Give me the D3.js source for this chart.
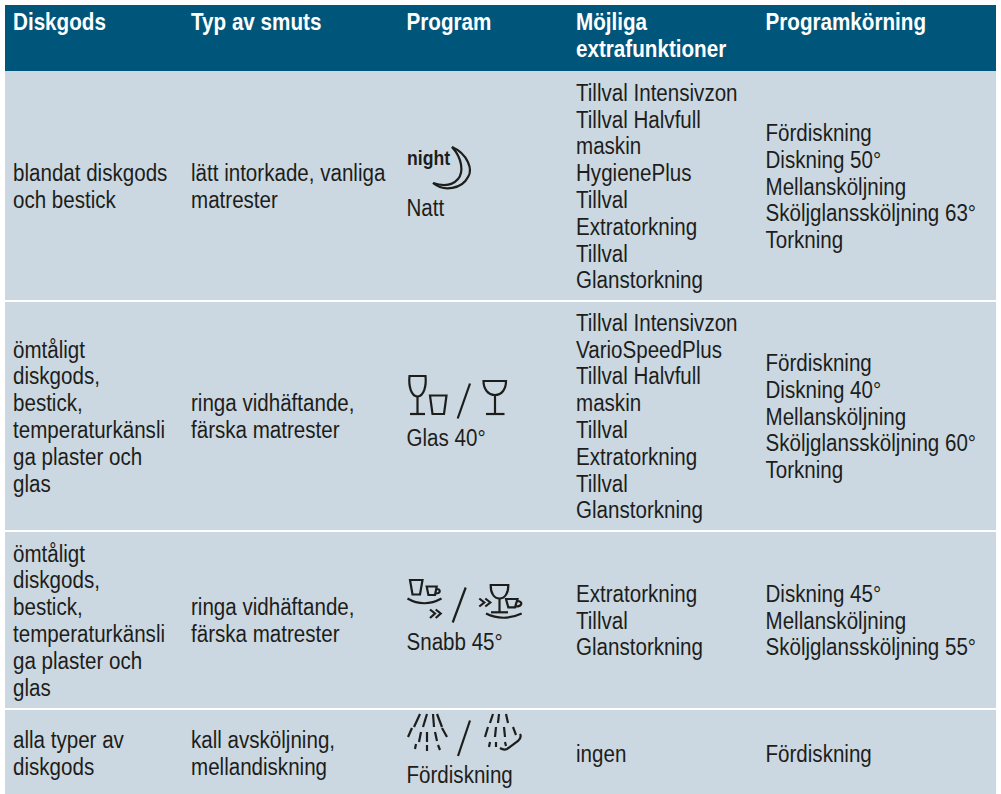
<!DOCTYPE html>
<html>
<head>
<meta charset="utf-8">
<style>
html, body { margin: 0; padding: 0; background: #fff; }
svg { display: block; }
text { font-family: "Liberation Sans", sans-serif; }
</style>
</head>
<body>
<svg width="1001" height="794"></svg>
<script src="https://d3js.org/d3.v7.min.js"></script>
<script>

// Table contents
var headers = [["Diskgods"], ["Typ av smuts"], ["Program"], ["Möjliga", "extrafunktioner"], ["Programkörning"]];

var goods = [
  ["blandat diskgods", "och bestick"],
  ["ömtåligt", "diskgods,", "bestick,", "temperaturkänsli", "ga plaster och", "glas"],
  ["ömtåligt", "diskgods,", "bestick,", "temperaturkänsli", "ga plaster och", "glas"],
  ["alla typer av", "diskgods"]
];
var soil = [
  ["lätt intorkade, vanliga", "matrester"],
  ["ringa vidhäftande,", "färska matrester"],
  ["ringa vidhäftande,", "färska matrester"],
  ["kall avsköljning,", "mellandiskning"]
];
var programs = ["Natt", "Glas 40°", "Snabb 45°", "Fördiskning"];
var extras = [
  ["Tillval Intensivzon", "Tillval Halvfull", "maskin", "HygienePlus", "Tillval", "Extratorkning", "Tillval", "Glanstorkning"],
  ["Tillval Intensivzon", "VarioSpeedPlus", "Tillval Halvfull", "maskin", "Tillval", "Extratorkning", "Tillval", "Glanstorkning"],
  ["Extratorkning", "Tillval", "Glanstorkning"],
  ["ingen"]
];
var steps = [
  ["Fördiskning", "Diskning 50°", "Mellansköljning", "Sköljglanssköljning 63°", "Torkning"],
  ["Fördiskning", "Diskning 40°", "Mellansköljning", "Sköljglanssköljning 60°", "Torkning"],
  ["Diskning 45°", "Mellansköljning", "Sköljglanssköljning 55°"],
  ["Fördiskning"]
];

// Layout
var colX = [13, 191, 406.5, 576, 765.5];
var rowEdges = [71, 300, 530, 708, 794];
var rowMids = [186, 416, 620, 753];
var tableLeft = 5, tableRight = 996, tableTop = 5;
var lineH = 26.8, fontSize = 24.5;
var stretchBody = 0.84, stretchHead = 0.843;

// Icons, drawn relative to the program column and the row centre
var icons = [
  { text: "night", paths: ["M46,-39C62,-32 67,-16 62,-9C56,3 38,6 27,-3", "M46,-39C56,-28 58,-14 52,-7C46,0 36,0 27,-3"] },
  { paths: [
    "M3.5,-40H19.5C20.5,-30 18,-20 11.5,-19.5C5,-20 2.5,-30 3.5,-40Z", "M11.5,-19.5V-2", "M4,-2H19",
    "M24,-20.5H40.5L38,-2H26.5Z",
    "M64,-32.5L51.7,2.5",
    "M77.5,-35H100C100,-27 96,-21 89,-21C82,-21 77.5,-27 77.5,-35Z", "M89,-21V-2", "M80,-2H98.5"
  ] },
  { paths: [
    "M4,-40H16.5L14,-25.5H6.5Z", "M20.7,-33.5H30.7L29,-25H22.4Z", "M30.5,-31C35,-31 35,-26.5 29.5,-26.5",
    "M1.5,-21.5Q18,-12 35.5,-21.5",
    "M24,-10.5L29,-6.5L24,-2", "M29.7,-10.5L34.7,-6.5L29.7,-2",
    "M59.7,-32.5L46.7,2.5",
    "M73.3,-21.5L78.3,-17.5L73.3,-13.5", "M79.3,-21.5L84.3,-17.5L79.3,-13.5",
    "M84.7,-35H102.3C102.5,-27 99,-21.5 93.5,-21.5C88,-21.5 84.5,-27 84.7,-35Z", "M93.5,-21.5V-7.7", "M85,-7.7H102",
    "M100,-21H111.5L109,-12.7H102.3Z", "M111,-19C117,-19 117,-13.5 109.5,-13.5",
    "M80,-6.5Q97,2 115.7,-6.5"
  ] },
  { paths: [
    "M14,-39L8,-26", "M21,-39L17,-26", "M27,-39L28,-26", "M31,-39L36,-26",
    "M6,-25L2,-16", "M15,-21L13,-11", "M21,-21V-11", "M29,-21L31,-12", "M36,-25L41,-16",
    "M10,-9L9,-4", "M21,-8V-2", "M32,-8L34,-3",
    "M64,-32.5L52,3",
    "M87,-39L84,-30", "M93,-39L92,-30", "M100,-39L102,-30",
    "M82,-26L79,-16", "M90,-26L89,-16", "M98,-26L99,-16", "M107,-26L110,-18",
    "M84,-11L83,-6", "M90,-11V-6", "M99,-11L100,-7",
    "M114,-19C116,-16 114,-14 112,-12L101,-4C99,-3 97,-3 94,-5"
  ] }
];

var svg = d3.select("svg");

// Header band and body
svg.append("rect").attr("x", tableLeft).attr("y", tableTop)
  .attr("width", tableRight - tableLeft).attr("height", rowEdges[0] - tableTop)
  .attr("fill", "#00567a");

var rowData = d3.range(4).map(function(i) {
  return { i: i, top: rowEdges[i], bottom: rowEdges[i + 1], mid: rowMids[i] };
});

svg.selectAll("rect.row").data(rowData).enter().append("rect")
  .attr("class", "row")
  .attr("x", tableLeft).attr("width", tableRight - tableLeft)
  .attr("y", function(d) { return d.i ? d.top + 2 : d.top; })
  .attr("height", function(d) { return d.bottom - (d.i ? d.top + 2 : d.top); })
  .attr("fill", "#cbd8e1");

function addLines(x, yFirst, lines, attrs) {
  lines.forEach(function(line, k) {
    svg.append("text")
      .attr("transform", "translate(" + x + "," + (yFirst + k * lineH) + ") scale(" + attrs.stretch + ",1)")
      .attr("font-size", fontSize)
      .attr("fill", attrs.fill)
      .attr("font-weight", attrs.weight)
      .text(line);
  });
}

// Header text
headers.forEach(function(h, c) {
  addLines(colX[c], 30, h, { fill: "#fff", weight: "bold", stretch: stretchHead });
});

// Body text, each block centred vertically in its row
function block(col, lines, row) {
  var first = row.mid - (lines.length - 1) * lineH / 2 + 8.5;
  addLines(colX[col], first, lines, { fill: "#1d1d1b", weight: "normal", stretch: stretchBody });
}

rowData.forEach(function(row) {
  block(0, goods[row.i], row);
  block(1, soil[row.i], row);
  block(3, extras[row.i], row);
  block(4, steps[row.i], row);
  addLines(colX[2], row.mid + 30, [programs[row.i]], { fill: "#1d1d1b", weight: "normal", stretch: stretchBody });

  var g = svg.append("g").attr("transform", "translate(406," + row.mid + ")");
  var ic = icons[row.i];
  if (ic.text) {
    g.append("text").attr("transform", "translate(1,-21.5) scale(0.84,1)").attr("font-size", 21)
      .attr("font-weight", "bold").attr("fill", "#1d1d1b").text(ic.text);
  }
  g.selectAll("path").data(ic.paths).enter().append("path")
    .attr("d", function(d) { return d; })
    .attr("fill", "none").attr("stroke", "#1d1d1b").attr("stroke-width", 2.2);
});

</script>
</body>
</html>
